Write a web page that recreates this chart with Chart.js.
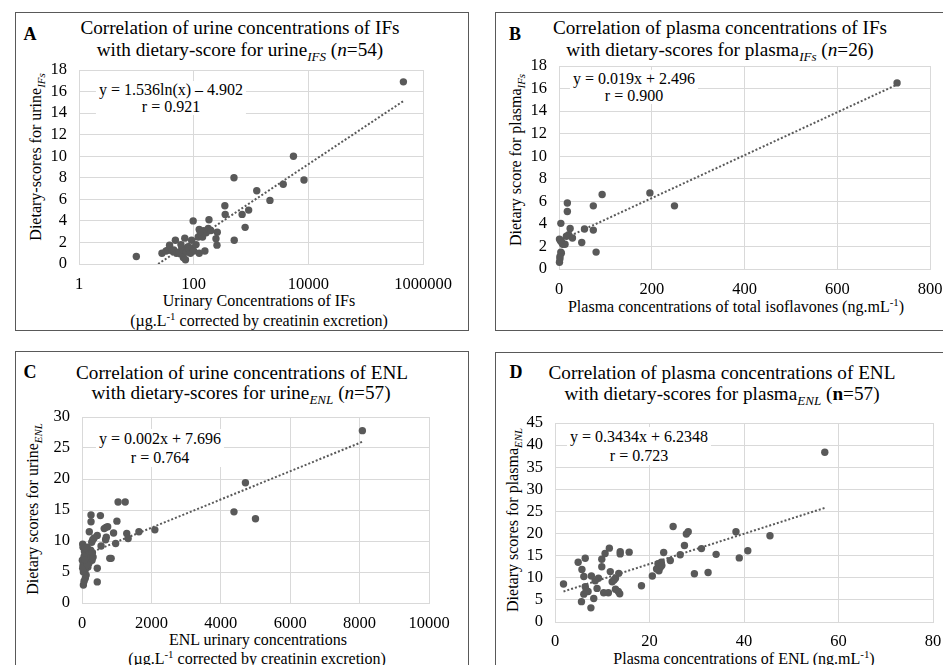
<!DOCTYPE html>
<html>
<head>
<meta charset="utf-8">
<script src="https://cdn.jsdelivr.net/npm/chart.js@4.4.1/dist/chart.umd.min.js"></script>
<style>
  body { margin:0; width:943px; height:665px; overflow:hidden; background:#fff; position:relative;
         font-family:"Liberation Serif","Times New Roman",serif; color:#000; }
  .box { position:absolute; border:1px solid #595959; }
  .t { position:absolute; white-space:nowrap; transform:translate(-50%,-50%); font-size:16px; }
  .ttl { font-size:19.2px; }
  .rot { transform:translate(-50%,-50%) rotate(-90deg); }
  .letter { font-weight:bold; font-size:18px; }
  .eq { background:#fff; text-align:center; padding:0 3px; z-index:2; }
  canvas { position:absolute; z-index:1; }
  sub, sup { font-size:68%; line-height:0; }
</style>
</head>
<body>
<!-- panel frames -->
<div class="box" style="left:15px;top:12px;width:452px;height:317px"></div>
<div class="box" style="left:495px;top:12px;width:470px;height:317px"></div>
<div class="box" style="left:15px;top:351px;width:452px;height:400px"></div>
<div class="box" style="left:495px;top:352px;width:470px;height:400px"></div>

<!-- A -->
<div class="t letter" style="left:30px;top:34px">A</div>
<div class="t ttl" style="left:240px;top:28px">Correlation of urine concentrations of IFs</div>
<div class="t ttl" style="left:240px;top:50px">with dietary-score for urine<sub><i>IFS</i></sub> (<i>n</i>=54)</div>
<div class="t eq" style="left:171px;top:98px;line-height:17px">y = 1.536ln(x) – 4.902<br>r = 0.921</div>
<div class="t rot" style="left:36px;top:157px">Dietary-scores for urine<sub><i>IFs</i></sub></div>
<div class="t" style="left:259px;top:301px">Urinary Concentrations of IFs</div>
<div class="t" style="left:259px;top:321px">(µg.L<sup>-1</sup> corrected by creatinin excretion)</div>
<canvas id="chartA" width="425" height="246" style="left:40px;top:44px"></canvas>

<!-- B -->
<div class="t letter" style="left:515px;top:34px">B</div>
<div class="t ttl" style="left:720px;top:28px">Correlation of plasma concentrations of IFs</div>
<div class="t ttl" style="left:720px;top:50px">with dietary-scores for plasma<sub><i>IFs</i></sub> (<i>n</i>=26)</div>
<div class="t eq" style="left:634px;top:87px;line-height:17px">y = 0.019x + 2.496<br>r = 0.900</div>
<div class="t rot" style="left:516px;top:160px">Dietary score for plasma<sub><i>IFs</i></sub></div>
<div class="t" style="left:736px;top:307px">Plasma concentrations of total isoflavones (ng.mL<sup>-1</sup>)</div>
<canvas id="chartB" width="436" height="260" style="left:520px;top:40px"></canvas>

<!-- C -->
<div class="t letter" style="left:30px;top:372px">C</div>
<div class="t ttl" style="left:242px;top:373px">Correlation of urine concentrations of ENL</div>
<div class="t ttl" style="left:241px;top:393px">with dietary-scores for urine<sub><i>ENL</i></sub> (<i>n</i>=57)</div>
<div class="t eq" style="left:160px;top:448px;line-height:19px">y = 0.002x + 7.696<br>r = 0.764</div>
<div class="t rot" style="left:33px;top:509px">Dietary scores for urine<sub><i>ENL</i></sub></div>
<div class="t" style="left:258px;top:640px">ENL urinary concentrations</div>
<div class="t" style="left:257px;top:659px">(µg.L<sup>-1</sup> corrected by creatinin excretion)</div>
<canvas id="chartC" width="422" height="244" style="left:40px;top:391px"></canvas>

<!-- D -->
<div class="t letter" style="left:516px;top:372px">D</div>
<div class="t ttl" style="left:722px;top:373px">Correlation of plasma concentrations of ENL</div>
<div class="t ttl" style="left:722px;top:394px">with dietary-scores for plasma<sub><i>ENL</i></sub> (<b>n</b>=57)</div>
<div class="t eq" style="left:639px;top:446px;line-height:19px">y = 0.3434x + 6.2348<br>r = 0.723</div>
<div class="t rot" style="left:513px;top:520px">Dietary scores for plasma<sub><i>ENL</i></sub></div>
<div class="t" style="left:744px;top:659px">Plasma concentrations of ENL (ng.mL<sup>-1</sup>)</div>
<canvas id="chartD" width="433" height="258" style="left:520px;top:397px"></canvas>

<script>
// ---- data ----
// A: urine IFs (log x)
const urineIFs = [10, 28, 33, 36, 38, 42, 45, 48, 50, 55, 58, 62, 66, 66, 70, 72, 75, 80, 84, 88,
  92, 95, 98, 100, 110, 120, 125, 125, 135, 143, 150, 157, 165, 180, 185, 200, 245, 255, 258, 350,
  355, 510, 505, 700, 790, 910, 1260, 2140, 3650, 5500, 8400, 455000, 130, 60];
const scoreUrineIFs = [0.7, 1.0, 1.2, 1.3, 1.75, 1.2, 1.3, 2.2, 1.0, 1.1, 0.95, 1.5, 1.3, 0.6, 2.4, 0.4, 1.1, 1.6, 1.35, 1.0,
  2.2, 1.5, 4.0, 1.2, 1.8, 2.5, 1.0, 3.2, 2.7, 2.5, 3.1, 1.2, 2.9, 3.3, 4.1, 3.1, 2.35, 1.75, 2.95, 5.4,
  4.6, 2.2, 8.0, 4.6, 3.4, 5.0, 6.8, 5.9, 7.4, 10.0, 7.8, 16.9, 3.0, 1.8];
const trendAx = [24, 450000];
const trendAy = [0, 15.1];
const ticksAx = [1, 100, 10000, 1000000];

// B: plasma IFs
const plasmaIFs = [729, 196, 249, 93, 74, 74, 55, 80, 49, 18, 18, 4, 24, 21, 29, 13, 6, 1, 8, 4,
  5, 2, 1, 3, 16, 2];
const scorePlasmaIFs = [16.5, 6.75, 5.6, 6.6, 5.6, 3.45, 3.55, 1.5, 2.35, 5.85, 5.1, 4.05, 3.6, 3.05, 2.75, 2.2, 2.35, 2.65, 2.2, 1.5,
  1.4, 0.9, 0.6, 2.5, 2.9, 1.1];
const trendBx = [1, 729];
const trendBy = [2.5, 16.35];

// C: urine ENL
const urineENL = [8080, 4710, 4380, 5000, 2100, 1640, 1040, 1245, 1006, 1290, 1330, 970, 910, 690, 740, 700, 680, 550, 840, 800,
  530, 260, 260, 210, 440, 310, 440, 440, 40, 20, 10, 30, 70, 250, 170, 290, 30, 170, 90, 120,
  95, 60, 150, 200, 280, 350, 120, 60, 200, 320, 40, 100, 300, 20, 150, 80, 640];
const scoreUrineENL = [27.8, 19.4, 14.7, 13.6, 11.8, 11.5, 16.3, 16.3, 13.2, 11.2, 10.4, 9.6, 11.3, 12.2, 12.3, 10.6, 10.2, 9.2, 7.2, 7.2,
  14.1, 14.2, 13.1, 11.5, 10.9, 10.2, 5.6, 3.4, 2.9, 9.5, 6.9, 9.0, 8.3, 8.5, 7.7, 6.9, 6.1, 5.8, 5.3, 4.5,
  4.0, 3.5, 9.0, 8.0, 9.8, 10.5, 6.8, 7.5, 6.4, 7.4, 5.0, 8.9, 8.1, 5.6, 6.2, 7.0, 12.0];
const trendCx = [10, 8080];
const trendCy = [7.6, 26.0];

// D: plasma ENL
const plasmaENL = [57.1, 45.5, 38.3, 40.8, 39.0, 34.1, 32.4, 29.5, 31.0, 28.2, 27.8, 27.4, 26.5, 25.0, 24.4, 23.0, 20.6, 18.3, 22.0, 22.3,
  21.8, 22.5, 21.5, 15.7, 13.8, 13.8, 11.5, 10.6, 9.9, 9.9, 11.7, 13.5, 12.8, 12.1, 13.7, 13.4, 12.8, 11.3, 10.3, 8.9,
  9.2, 7.7, 8.2, 7.6, 5.6, 6.1, 7.0, 6.4, 6.1, 5.7, 6.4, 4.9, 1.8, 8.5, 12.5, 22.6, 6.6];
const scorePlasmaENL = [38.4, 19.5, 20.4, 16.1, 14.5, 15.3, 11.2, 10.9, 16.6, 20.4, 19.9, 17.3, 15.2, 21.6, 13.9, 15.7, 10.4, 8.2, 11.6, 12.4,
  13.2, 13.5, 12.0, 15.8, 15.9, 15.4, 16.7, 15.5, 14.2, 12.5, 11.4, 11.0, 9.9, 9.1, 6.4, 6.9, 7.4, 6.6, 6.6, 7.6,
  9.9, 10.4, 5.3, 3.2, 4.6, 6.3, 6.9, 8.0, 10.3, 11.9, 14.4, 13.5, 8.6, 9.3, 9.5, 12.8, 7.2];
const trendDx = [1.8, 57.1];
const trendDy = [6.9, 25.8];

const dotColor = '#595959';
const gridColor = '#d9d9d9';
Chart.defaults.font.family = 'Liberation Serif';
const tickFont = { family: 'Liberation Serif', size: 16.5 };

function pairs(xs, ys) {
  return xs.map((x, i) => ({ x: x, y: ys[i] }));
}

// Builds one scatter panel with its dotted trendline
function createPanel(id, xs, ys, tx, ty, xOpts, yOpts, geom) {
  const ctx = document.getElementById(id).getContext('2d');
  const xScale = {
    type: xOpts.type || 'linear',
    position: 'bottom',
    min: xOpts.min,
    max: xOpts.max,
    grid: { color: gridColor, drawTicks: false },
    border: { color: gridColor },
    ticks: {
      font: tickFont, color: '#000', padding: geom.xpad,
      autoSkip: false, maxRotation: 0,
      stepSize: xOpts.step,
      callback: v => String(v)
    },
    afterFit: s => { s.height = geom.xh; }
  };
  if (xOpts.ticks) {
    xScale.afterBuildTicks = s => { s.ticks = xOpts.ticks.map(v => ({ value: v })); };
  }
  const chart = new Chart(ctx, {
    type: 'scatter',
    data: {
      datasets: [
        {
          data: pairs(xs, ys),
          backgroundColor: dotColor,
          borderColor: dotColor,
          borderWidth: 0,
          pointRadius: 3.7,
          clip: false
        },
        {
          type: 'line',
          data: pairs(tx, ty),
          borderColor: dotColor,
          borderWidth: 2,
          borderDash: [2, 2],
          pointRadius: 0,
          fill: false
        }
      ]
    },
    options: {
      responsive: false,
      animation: false,
      layout: { padding: { top: 26, right: geom.pr, left: 0, bottom: 0 } },
      plugins: { legend: { display: false }, tooltip: { enabled: false } },
      scales: {
        x: xScale,
        y: {
          type: 'linear',
          min: yOpts.min,
          max: yOpts.max,
          grid: { color: gridColor, drawTicks: false },
          border: { color: gridColor },
          ticks: { font: tickFont, color: '#000', padding: 12, stepSize: yOpts.step, autoSkip: false },
          afterFit: s => { s.width = geom.yw; }
        }
      }
    }
  });
  return chart;
}

createPanel('chartA', urineIFs, scoreUrineIFs, trendAx, trendAy,
  { type: 'logarithmic', min: 1, max: 1000000, ticks: ticksAx },
  { min: 0, max: 18, step: 2 },
  { yw: 39, xh: 26, pr: 42, xpad: 11 });

createPanel('chartB', plasmaIFs, scorePlasmaIFs, trendBx, trendBy,
  { min: 0, max: 800, step: 200 },
  { min: 0, max: 18, step: 2 },
  { yw: 39, xh: 31, pr: 26, xpad: 11 });

createPanel('chartC', urineENL, scoreUrineENL, trendCx, trendCy,
  { min: 0, max: 10000, step: 2000 },
  { min: 0, max: 30, step: 5 },
  { yw: 42, xh: 32, pr: 33, xpad: 11 });

createPanel('chartD', plasmaENL, scorePlasmaENL, trendDx, trendDy,
  { min: 0, max: 80, step: 20 },
  { min: 0, max: 45, step: 5 },
  { yw: 35, xh: 33, pr: 20, xpad: 10 });
</script>
</body>
</html>
